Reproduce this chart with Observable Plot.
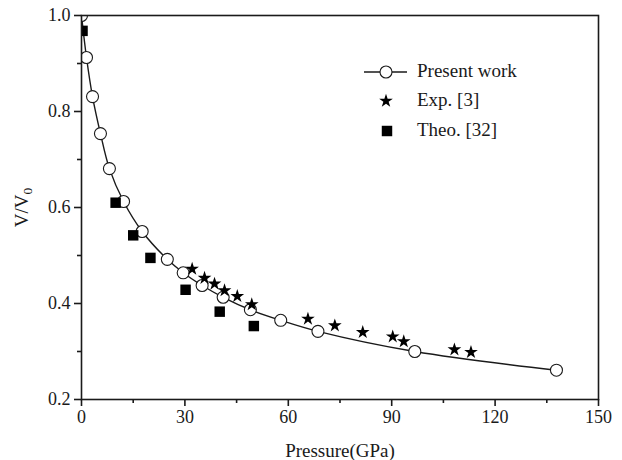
<!DOCTYPE html>
<html><head><meta charset="utf-8">
<script src="https://cdn.jsdelivr.net/npm/d3@7"></script>
<script src="https://cdn.jsdelivr.net/npm/@observablehq/plot@0.6"></script>
<style>
body{margin:0;background:#fff;}
#wrap{position:relative;width:622px;height:460px;}
#legend{position:absolute;left:0;top:0;pointer-events:none;}
svg, svg text { font-family: "Liberation Serif", "Times New Roman", serif !important; }
</style></head><body>
<div id="wrap"></div>
<script>
// Present work (circles + line)
const presentP = [0, 1.45, 3.2, 5.5, 8.1, 12.2, 17.6, 24.9, 29.5, 35.0, 41.1, 49.0, 57.8, 68.6, 96.7, 137.8];
const presentV = [1.0, 0.9125, 0.831, 0.754, 0.681, 0.6125, 0.55, 0.492, 0.464, 0.4375, 0.413, 0.387, 0.365, 0.342, 0.300, 0.261];
// Exp. [3] (stars)
const expP = [32.1, 35.7, 38.6, 41.5, 45.2, 49.4, 65.7, 73.5, 81.6, 90.3, 93.5, 108.2, 113.0];
const expV = [0.472, 0.453, 0.441, 0.427, 0.415, 0.398, 0.368, 0.354, 0.340, 0.331, 0.321, 0.304, 0.2985];
// Theo. [32] (squares)
const theoP = [0.3, 9.9, 15.0, 20.0, 30.2, 40.1, 50.0];
const theoV = [0.968, 0.610, 0.542, 0.495, 0.4286, 0.383, 0.353];
// ticks
const xTicks = [0, 30, 60, 90, 120, 150];
const xMinor = [15, 45, 75, 105, 135];
const yTicks = [0.2, 0.4, 0.6, 0.8, 1.0];
const yMinor = [0.3, 0.5, 0.7, 0.9];
const seriesNames = ["Present work", "Exp. [3]", "Theo. [32]"];

const present = presentP.map((p, i) => ({P: p, V: presentV[i]}));
const exp = expP.map((p, i) => ({P: p, V: expV[i]}));
const theo = theoP.map((p, i) => ({P: p, V: theoV[i]}));

const ink = "#1a1a1a";
const chart = Plot.plot({
  width: 622, height: 460,
  marginLeft: 81, marginRight: 24, marginTop: 15, marginBottom: 61,
  style: {fontFamily: "Liberation Serif, serif", fontSize: "18px", color: ink, background: "#fff", overflow: "visible"},
  x: {domain: [0, 150]},
  y: {domain: [0.2, 1.0]},
  marks: [
    Plot.line(present, {x: "P", y: "V", curve: "catmull-rom", stroke: ink, strokeWidth: 1.4}),
    Plot.dot(present, {x: "P", y: "V", r: 6, fill: "white", stroke: ink, strokeWidth: 1.1, clip: "frame"}),
    Plot.dot(exp, {x: "P", y: "V", symbol: "star", r: 4.3, fill: "black", stroke: "none"}),
    Plot.dot(theo, {x: "P", y: "V", symbol: "square", r: 5.9, fill: "black", stroke: "none", clip: "frame"}),
    Plot.axisX({ticks: xTicks, tickSize: 7, tickPadding: 4, strokeWidth: 1.6, label: "Pressure(GPa)", labelAnchor: "center", labelArrow: "none", labelOffset: 57, fontSize: 18}),
    Plot.axisX({ticks: xMinor, tickSize: 4, text: null, label: null, strokeWidth: 1.6}),
    Plot.axisY({ticks: yTicks, tickSize: 7, tickPadding: 4, tickFormat: ".1f", strokeWidth: 1.6, label: "V/V0", labelAnchor: "center", labelArrow: "none", labelOffset: 67, fontSize: 18}),
    Plot.axisY({ticks: yMinor, tickSize: 4, text: null, label: null, strokeWidth: 1.6}),
    Plot.frame({stroke: ink, strokeWidth: 1.6})
  ]
});
document.getElementById("wrap").appendChild(chart);

// font sizes on axis text
d3.select(chart).selectAll('g[aria-label="x-axis tick label"], g[aria-label="y-axis tick label"]').attr("font-size", 18);
d3.select(chart).selectAll('g[aria-label="x-axis label"], g[aria-label="y-axis label"]').attr("font-size", 19);

// subscript for V/V0
const yl = d3.select(chart).select('g[aria-label="y-axis label"] text');
if (!yl.empty()) {
  yl.text("V/V");
  yl.append("tspan").attr("dy", "0.3em").attr("font-size", "0.7em").text("0");
}

// legend overlay
const leg = d3.select("#wrap").append("svg").attr("id", "legend")
  .attr("width", 622).attr("height", 460)
  .style("font-size", "19px");
const rows = [72, 101, 131];
leg.append("line").attr("x1", 364).attr("x2", 407).attr("y1", rows[0]).attr("y2", rows[0]).attr("stroke", ink).attr("stroke-width", 1.4);
leg.append("circle").attr("cx", 386).attr("cy", rows[0]).attr("r", 6).attr("fill", "white").attr("stroke", ink).attr("stroke-width", 1.1);
leg.append("path").attr("d", d3.symbol(d3.symbolStar, Math.PI * 4.3 * 4.3)()).attr("transform", `translate(386,${rows[1]})`).attr("fill", "black");
leg.append("path").attr("d", d3.symbol(d3.symbolSquare, Math.PI * 5.9 * 5.9)()).attr("transform", `translate(387,${rows[2]})`).attr("fill", "black");
seriesNames.forEach((n, i) => {
  leg.append("text").attr("x", 417).attr("y", rows[i] + 5).attr("fill", ink).text(n);
});
</script>
</body></html>
